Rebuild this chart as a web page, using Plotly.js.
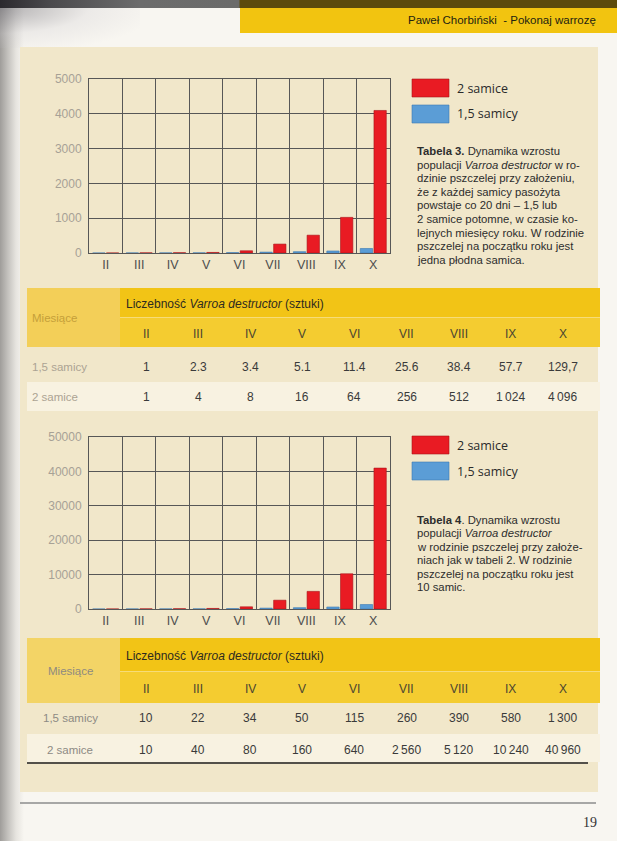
<!DOCTYPE html>
<html>
<head>
<meta charset="utf-8">
<script src="https://cdn.plot.ly/plotly-3.0.1.min.js"></script>
<style>
html,body{margin:0;padding:0;width:617px;height:841px;overflow:hidden;background:#f8f6f1;}
#page{position:absolute;left:0;top:0;width:617px;height:841px;
  background:linear-gradient(to right,#9f9d9a 0px,#c4c2be 8px,#e6e4df 16px,rgba(248,246,241,0) 24px);}
#topbar{position:absolute;left:0;top:0;width:617px;height:8px;
  background:linear-gradient(to right,#2b292e 0px,#4a494c 50px,#6c6c6c 140px,#6b6b6a 239px,#5c4b0c 240px,#5c4b0c 617px);}
#gloss{position:absolute;left:0;top:8px;width:140px;height:40px;
  background:radial-gradient(ellipse at 0% 0%,rgba(120,118,125,0.55) 0%,rgba(200,198,204,0.25) 45%,rgba(255,255,255,0) 80%);}
#chart{position:absolute;left:0;top:0;width:617px;height:841px;}
</style>
</head>
<body>
<div id="page"></div><div id="topbar"></div><div id="gloss"></div>
<div id="chart"></div>
<script>
// ---------------- data ----------------
const months = ['II','III','IV','V','VI','VII','VIII','IX','X'];
const legendLabels = ['2 samice','1,5 samicy'];
// Tabela 3 (one founding female)
const t3_samicy15 = ['1','2.3','3.4','5.1','11.4','25.6','38.4','57.7','129,7'];
const t3_samice2  = ['1','4','8','16','64','256','512','1\u2009024','4\u2009096'];
// Tabela 4 (ten founding females)
const t4_samicy15 = ['10','22','34','50','115','260','390','580','1\u2009300'];
const t4_samice2  = ['10','40','80','160','640','2\u2009560','5\u2009120','10\u2009240','40\u2009960'];
const yTicks1 = [0,1000,2000,3000,4000,5000];
const yTicks2 = [0,10000,20000,30000,40000,50000];
const rowLabels = ['1,5 samicy','2 samice'];
const monthsHeader = 'Miesiące';
const countHeader = 'Liczebność <i>Varroa destructor</i> (sztuki)';
const caption3 = [
  '<b>Tabela 3.</b> Dynamika wzrostu',
  'populacji <i>Varroa destructor</i> w ro-',
  'dzinie pszczelej przy założeniu,',
  'że z każdej samicy pasożyta',
  'powstaje co 20 dni – 1,5 lub',
  '2 samice potomne, w czasie ko-',
  'lejnych miesięcy roku. W rodzinie',
  'pszczelej na początku roku jest',
  'jedna płodna samica.'
];
const caption4 = [
  '<b>Tabela 4</b>. Dynamika wzrostu',
  'populacji <i>Varroa destructor</i>',
  'w rodzinie pszczelej przy założe-',
  'niach jak w tabeli 2. W rodzinie',
  'pszczelej na początku roku jest',
  '10 samic.'
];
const runningHead = 'Paweł Chorbiński  - Pokonaj warrozę';
const pageNumber = '19';

// ---------------- helpers ----------------
const W = 617, H = 841;
const px = x => x / W;
const py = y => 1 - y / H;
const num = s => parseFloat(s.replace(/\u2009/g,'').replace(',', '.'));

const RED = '#e91b23', RED_L = '#a8141a';
const BLUE = '#5b9dd6', BLUE_L = '#3c7bb2';
const GRID = '#575757';
const SANS = 'Liberation Sans, Arial, sans-serif';
const PANEL = '#f1e7ca';

const shapes = [];
const ann = [];
function rect(x0,y0,x1,y1,fill,line){
  shapes.push({type:'rect',xref:'paper',yref:'paper',x0:px(x0),x1:px(x1),y0:py(y1),y1:py(y0),
    fillcolor:fill,line:line||{width:0},layer:'below'});
}
function hline(x0,x1,y,color,w){
  shapes.push({type:'line',xref:'paper',yref:'paper',x0:px(x0),x1:px(x1),y0:py(y),y1:py(y),
    line:{color:color,width:w},layer:'below'});
}
function text(t,x,y,opts){
  opts = opts||{};
  ann.push({text:t,xref:'paper',yref:'paper',x:px(x),y:py(y),showarrow:false,
    xanchor:opts.xa||'center',yanchor:'middle',align:opts.xa||'center',
    font:{family:opts.family||SANS,size:opts.size||12,color:opts.color||'#333'}});
}

// ---------------- page decoration ----------------
rect(240,8,617,33,'#f2c410');
text(runningHead,598,20,{xa:'right',size:11.5,color:'#231f10'});
rect(20,47,598,792,PANEL);
hline(20,596,803,'#8c8c8c',1.5);
text(pageNumber,590,822,{family:'Liberation Serif, serif',size:14,color:'#333'});

// ---------------- legends & captions ----------------
function legend(yRed,yBlue){
  rect(412,yRed-9,449,yRed+9,RED,{color:RED_L,width:0.6});
  rect(412,yBlue-9,449,yBlue+9,BLUE,{color:BLUE_L,width:0.6});
  text(legendLabels[0],455,yRed,{xa:'left',family:'Open Sans, sans-serif',size:12.5,color:'#2a2a2a'});
  text(legendLabels[1],455,yBlue,{xa:'left',family:'Open Sans, sans-serif',size:12.5,color:'#2a2a2a'});
}
legend(88,114);
legend(445,471);
caption3.forEach((l,i)=>text(l,415,151+13.6*i,{xa:'left',size:11.3,color:'#2d2d2d'}));
caption4.forEach((l,i)=>text(l,415,520+13.4*i,{xa:'left',size:11.3,color:'#2d2d2d'}));

// ---------------- tables ----------------
const colX = i => 146 + 52.1*i;
function table(cfg, rowA, rowB){
  const t = cfg.top;
  rect(27,t,120,cfg.hdrBot,cfg.mcell);
  rect(120,t,600,cfg.mid,'#f2c416');
  rect(120,cfg.mid+1,600,cfg.hdrBot,'#f4cc30');
  hline(120,600,cfg.mid+0.5,'#f6dc78',1);
  rect(27,cfg.r2top,600,cfg.r2bot,'#f8f2e1');
  text(monthsHeader,cfg.labX,(t+cfg.hdrBot)/2,{xa:cfg.labA,size:11.5,color:cfg.mcolor});
  text(countHeader,124,(t+cfg.mid)/2+1,{xa:'left',size:12,color:'#2d2a20'});
  months.forEach((m,i)=>text(m,colX(i),(cfg.mid+cfg.hdrBot)/2+2,{size:12,color:'#4a4530'}));
  text(rowLabels[0],cfg.labX,cfg.y1,{xa:cfg.labA,size:11.5,color:cfg.lcolor});
  text(rowLabels[1],cfg.labX,cfg.y2,{xa:cfg.labA,size:11.5,color:cfg.lcolor});
  rowA.forEach((v,i)=>text(v,colX(i),cfg.y1,{size:12,color:'#3a3a3a'}));
  rowB.forEach((v,i)=>text(v,colX(i),cfg.y2,{size:12,color:'#3a3a3a'}));
}
table({top:288,mid:317,hdrBot:347,r2top:382,r2bot:411,y1:367,y2:397,
       labX:30,labA:'left',mcell:'#f3cf58',mcolor:'#c59f3a',lcolor:'#aca393'},
      t3_samicy15,t3_samice2);
table({top:638,mid:671,hdrBot:703,r2top:734,r2bot:762,y1:718,y2:750,
       labX:70,labA:'center',mcell:'#f3d466',mcolor:'#8e8a80',lcolor:'#8d8a84'},
      t4_samicy15,t4_samice2);
hline(27,588,763,'#1e1e1e',1.6);

// ---------------- charts ----------------
function bars(xa,ya,s15,s2){
  return [
    {type:'bar',x:months,y:s15.map(num),xaxis:xa,yaxis:ya,name:legendLabels[1],
     marker:{color:BLUE,line:{color:BLUE_L,width:0.6}},hoverinfo:'skip'},
    {type:'bar',x:months,y:s2.map(num),xaxis:xa,yaxis:ya,name:legendLabels[0],
     marker:{color:RED,line:{color:RED_L,width:0.6}},hoverinfo:'skip'}
  ];
}
const data = [...bars('x','y',t3_samicy15,t3_samice2), ...bars('x2','y2',t4_samicy15,t4_samice2)];

function xax(anchor){
  return {domain:[px(89),px(390)],anchor:anchor,type:'category',tickson:'boundaries',
    showgrid:true,gridcolor:GRID,gridwidth:1,showline:true,mirror:true,linecolor:GRID,linewidth:1,
    ticks:'outside',ticklen:5,tickcolor:'rgba(0,0,0,0)',zeroline:false,fixedrange:true,
    tickfont:{family:SANS,size:12.5,color:'#4d4d4d'}};
}
function yax(anchor,top,bot,ticks){
  return {domain:[py(bot),py(top)],anchor:anchor,range:[0,ticks[ticks.length-1]],
    tickvals:ticks,tickformat:'d',showgrid:true,gridcolor:GRID,gridwidth:1,
    showline:true,mirror:true,linecolor:GRID,linewidth:1,zeroline:false,fixedrange:true,
    ticks:'outside',ticklen:4,tickcolor:'rgba(0,0,0,0)',
    tickfont:{family:SANS,size:12,color:'#a7a196'}};
}

const layout = {
  width:W,height:H,margin:{l:0,r:0,t:0,b:0},
  paper_bgcolor:'rgba(0,0,0,0)',plot_bgcolor:'rgba(0,0,0,0)',
  showlegend:false,barmode:'group',bargap:0.18,bargroupgap:0.1,
  xaxis:xax('y'),yaxis:yax('x',79,253,yTicks1),
  xaxis2:xax('y2'),yaxis2:yax('x2',437,609,yTicks2),
  shapes:shapes,annotations:ann
};
Plotly.newPlot('chart',data,layout,{staticPlot:true,displayModeBar:false});
</script>
</body>
</html>
